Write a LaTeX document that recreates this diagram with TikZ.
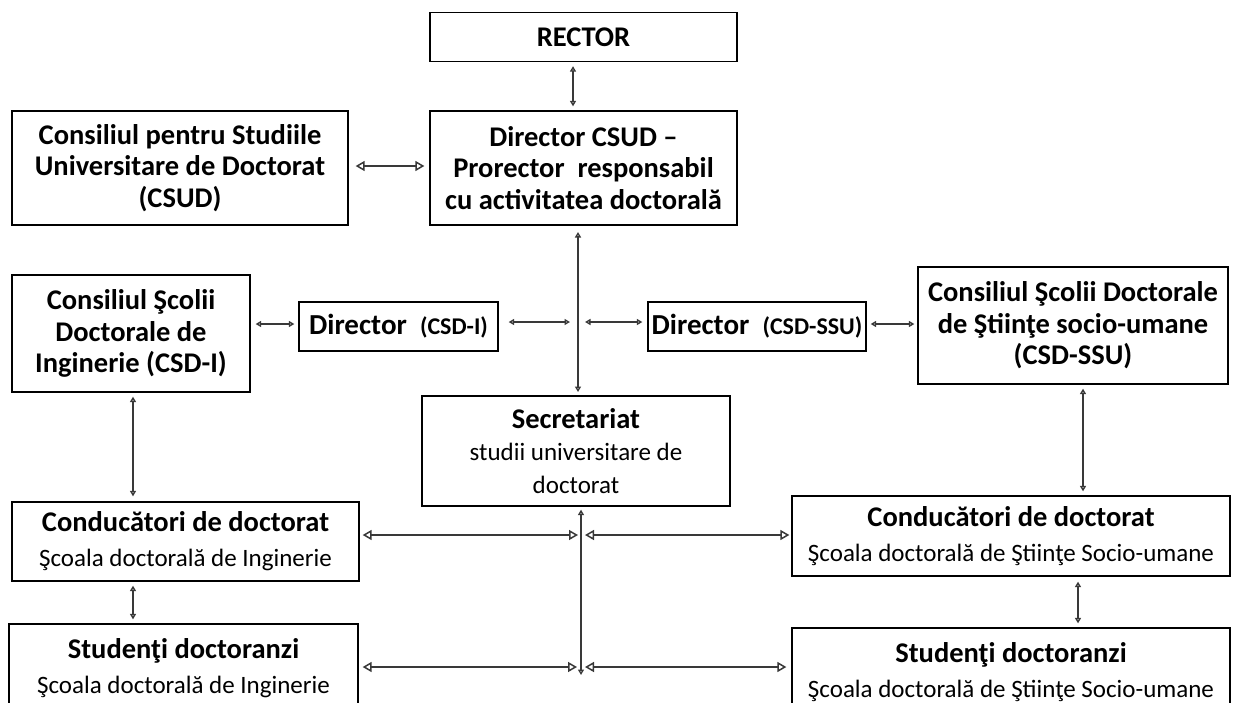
\documentclass[tikz,border=0pt]{standalone}
\usepackage{fontspec}
\setmainfont{Carlito}
\usetikzlibrary{arrows.meta}
\newcommand\hdfont{\fontsize{28.5}{33}\selectfont\bfseries}
\begin{document}
\begin{tikzpicture}[x=1pt,y=-1pt,
  box/.style={draw=black,line width=1.3pt,align=center,inner sep=0pt,font=\fontsize{28.5}{31.5}\selectfont\bfseries},
  sub/.style={font=\fontsize{25}{35}\selectfont},
  big/.style={gray!45!black,line width=1.5pt,{Triangle[open,length=9pt,width=10pt]}-{Triangle[open,length=9pt,width=10pt]}},
  sm/.style={gray!45!black,line width=1.4pt,{Triangle[open,length=5.5pt,width=6pt]}-{Triangle[open,length=5.5pt,width=6pt]}}]
\useasboundingbox (0,0) rectangle (1234,702);
\fill[white] (0,0) rectangle (1234,702);
\node[box,minimum width=307,minimum height=49] (rector) at (583.5,37) {RECTOR};
\node[box,minimum width=307,minimum height=114] (dcsud) at (583.5,168) {Director CSUD –\\Prorector\ \ responsabil\\cu activitatea doctorală};
\node[box,minimum width=336,minimum height=114] (csud) at (180,168) {Consiliul pentru Studiile\\Universitare de Doctorat\\(CSUD)};
\node[box,minimum width=238,minimum height=117] (csdi) at (131,333.5) {Consiliul Şcolii\\Doctorale de\\Inginerie (CSD-I)};
\node[box,minimum width=199,minimum height=49,font=\fontsize{29}{33}\selectfont\bfseries] (dir1) at (398.5,326.5) {Director\ \ {\fontsize{24}{28}\selectfont(CSD-I)}};
\node[box,minimum width=218,minimum height=49,font=\fontsize{29}{33}\selectfont\bfseries] (dir2) at (757,326.5) {Director\ \ {\fontsize{24}{28}\selectfont(CSD-SSU)}};
\node[box,minimum width=310,minimum height=117] (ssu) at (1073,325.5) {Consiliul Şcolii Doctorale\\de Ştiinţe socio-umane\\(CSD-SSU)};
\node[box,sub,minimum width=308,minimum height=110,font=\fontsize{25}{32.5}\selectfont] (secr) at (576,451) {{\hdfont Secretariat}\\studii universitare de\\doctorat};
\node[box,sub,minimum width=347,minimum height=79] (condL) at (185.5,541.5) {{\hdfont Conducători de doctorat}\\Şcoala doctorală de Inginerie};
\node[box,sub,minimum width=438,minimum height=80] (condR) at (1011,536) {{\hdfont Conducători de doctorat}\\Şcoala doctorală de Ştiinţe Socio-umane};
\node[box,sub,minimum width=349,minimum height=88] (studL) at (183.5,668) {{\hdfont Studenţi doctoranzi}\\Şcoala doctorală de Inginerie};
\node[box,sub,minimum width=438,minimum height=88] (studR) at (1011,672) {{\hdfont Studenţi doctoranzi}\\Şcoala doctorală de Ştiinţe Socio-umane};
% named free ends
\coordinate (vtop) at (578,232);
\coordinate (vbot) at (578,392);
\coordinate (l1) at (570,322);
\coordinate (r1) at (585,322);
\coordinate (sbot) at (581,675);
\coordinate (lc) at (578,535);
\coordinate (rc) at (585,535);
\coordinate (ls) at (577,667);
\coordinate (rs) at (585,667);
% connectors (yshift positive = upwards)
\draw[sm,shorten <=4pt,shorten >=4pt] ([xshift=-10.5pt]rector.south) -- ([xshift=-10.5pt]dcsud.north);
\draw[big,shorten <=7pt,shorten >=5pt] ([yshift=2pt]csud.east) -- ([yshift=2pt]dcsud.west);
\draw[sm] (vtop) -- (vbot);
\draw[sm,shorten <=5pt,shorten >=4pt] ([yshift=9.5pt]csdi.east) -- ([yshift=2.5pt]dir1.west);
\draw[sm,shorten <=10pt] ([yshift=4.5pt]dir1.east) -- (l1);
\draw[sm,shorten >=5pt] (r1) -- ([yshift=4.5pt]dir2.west);
\draw[sm,shorten <=4pt,shorten >=3pt] ([yshift=2.5pt]dir2.east) -- ([yshift=1.5pt]ssu.west);
\draw[sm,shorten <=4pt,shorten >=5pt] ([xshift=2pt]csdi.south) -- ([xshift=-52.5pt]condL.north);
\draw[sm,shorten <=4pt,shorten >=4pt] ([xshift=10pt]ssu.south) -- ([xshift=72pt]condR.north);
\draw[big,shorten <=3pt] ([yshift=6.5pt]condL.east) -- (lc);
\draw[big,shorten >=2pt] (rc) -- ([yshift=1pt]condR.west);
\draw[sm,shorten <=4pt,shorten >=4pt] ([xshift=-52.5pt]condL.south) -- ([xshift=-50.5pt]studL.north);
\draw[sm,shorten <=5pt,shorten >=4pt] ([xshift=67pt]condR.south) -- ([xshift=67pt]studR.north);
\draw[big,shorten <=4pt] ([yshift=1pt]studL.east) -- (ls);
\draw[big,shorten >=5pt] (rs) -- ([yshift=5pt]studR.west);
\draw[sm,shorten <=3pt] ([xshift=5pt]secr.south) -- (sbot);
\end{tikzpicture}
\end{document}
